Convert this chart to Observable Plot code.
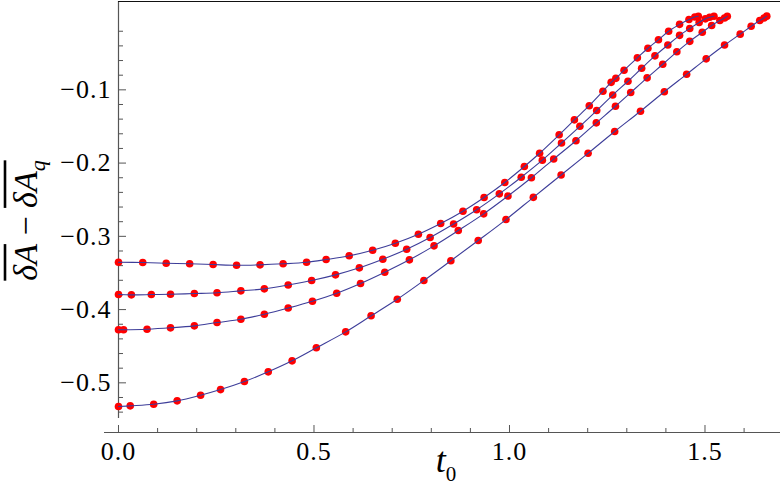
<!DOCTYPE html>
<html><head><meta charset="utf-8">
<script src="https://cdn.jsdelivr.net/npm/d3@7"></script>
<script src="https://cdn.jsdelivr.net/npm/@observablehq/plot@0.6"></script>
<style>html,body{margin:0;padding:0;background:#fff;} #chart{position:relative;width:780px;height:501px;}</style>
</head><body><div id="chart"></div>
<script>
// Series 1 (top curve)
const t1 = [0, 0.062, 0.122, 0.182, 0.242, 0.302, 0.362, 0.421, 0.481, 0.531, 0.590, 0.650, 0.708, 0.767, 0.824, 0.881, 0.935, 0.988, 1.038, 1.077, 1.127, 1.166, 1.204, 1.239, 1.260, 1.272, 1.293, 1.327, 1.354, 1.381, 1.407, 1.435, 1.459, 1.474, 1.483];
const v1 = [-0.3354, -0.3358, -0.3367, -0.3375, -0.3385, -0.3395, -0.3389, -0.3375, -0.3354, -0.3317, -0.3266, -0.3190, -0.3094, -0.2971, -0.2825, -0.2657, -0.2470, -0.2265, -0.2047, -0.1866, -0.1614, -0.1410, -0.1217, -0.1020, -0.0898, -0.0843, -0.0732, -0.0563, -0.0432, -0.0317, -0.0200, -0.0106, -0.0040, -0.0006, 0.0004];
// Series 2
const t2 = [0, 0.033, 0.084, 0.133, 0.194, 0.252, 0.313, 0.373, 0.434, 0.494, 0.555, 0.616, 0.676, 0.737, 0.797, 0.857, 0.916, 0.974, 1.030, 1.084, 1.133, 1.180, 1.223, 1.264, 1.303, 1.338, 1.372, 1.405, 1.435, 1.461, 1.485, 1.501, 1.512, 1.523];
const v2 = [-0.3795, -0.3799, -0.3795, -0.3790, -0.3781, -0.3771, -0.3744, -0.3717, -0.3665, -0.3603, -0.3526, -0.3430, -0.3313, -0.3176, -0.3016, -0.2832, -0.2637, -0.2420, -0.2193, -0.1960, -0.1726, -0.1498, -0.1283, -0.1071, -0.0883, -0.0705, -0.0536, -0.0388, -0.0256, -0.0163, -0.0081, -0.0031, -0.0010, 0.0004];
// Series 3
const t3 = [0, 0.013, 0.073, 0.133, 0.194, 0.252, 0.313, 0.373, 0.434, 0.496, 0.558, 0.619, 0.681, 0.744, 0.807, 0.869, 0.934, 0.996, 1.056, 1.113, 1.170, 1.222, 1.271, 1.310, 1.352, 1.392, 1.428, 1.461, 1.493, 1.517, 1.538, 1.550, 1.557];
const v3 = [-0.4276, -0.4276, -0.4268, -0.4249, -0.4222, -0.4177, -0.4132, -0.4063, -0.3979, -0.3886, -0.3777, -0.3644, -0.3490, -0.3321, -0.3130, -0.2921, -0.2693, -0.2450, -0.2200, -0.1945, -0.1695, -0.1451, -0.1224, -0.1037, -0.0836, -0.0651, -0.0481, -0.0338, -0.0214, -0.0122, -0.0054, -0.0020, 0.0003];
// Series 4 (bottom curve)
const t4 = [0, 0.030, 0.090, 0.150, 0.210, 0.261, 0.322, 0.383, 0.444, 0.506, 0.581, 0.646, 0.713, 0.781, 0.850, 0.920, 0.991, 1.061, 1.132, 1.201, 1.269, 1.335, 1.396, 1.453, 1.503, 1.550, 1.590, 1.618, 1.640, 1.651, 1.658];
const v4 = [-0.5324, -0.5314, -0.5292, -0.5246, -0.5169, -0.5092, -0.4982, -0.4850, -0.4700, -0.4522, -0.4304, -0.4085, -0.3859, -0.3603, -0.3333, -0.3057, -0.2771, -0.2468, -0.2163, -0.1866, -0.1569, -0.1292, -0.1026, -0.0788, -0.0577, -0.0388, -0.0240, -0.0132, -0.0054, -0.0020, 0.0006];

const xMajor = [0, 0.5, 1.0, 1.5];
const xMinor = [0.1, 0.2, 0.3, 0.4, 0.6, 0.7, 0.8, 0.9, 1.1, 1.2, 1.3, 1.4, 1.6];
const yMajor = [-0.5, -0.4, -0.3, -0.2, -0.1];
const yMinor = [-0.54, -0.52, -0.48, -0.46, -0.44, -0.42, -0.38, -0.36, -0.34, -0.32, -0.28, -0.26, -0.24, -0.22, -0.18, -0.16, -0.14, -0.12, -0.08, -0.06, -0.04, -0.02];

const xDomain = [-0.0358, 1.6931];
const yDomain = [-0.5678, 0.0206];
const yAxisBottom = -0.5487;
const axisColor = "#555";
const tickFont = "'Liberation Serif', serif";
const tickSizePx = 26;

const data = [[t1, v1], [t2, v2], [t3, v3], [t4, v4]]
  .flatMap(([ts, vs], k) => ts.map((t, i) => ({series: k, t, v: vs[i]})));

const fmt = d => (d < 0 ? "\u2212" : "") + Math.abs(d).toFixed(1);
const blank = () => "";

const plot = Plot.plot({
  width: 780, height: 501,
  marginLeft: 104, marginRight: 0, marginTop: 1, marginBottom: 69,
  style: {fontFamily: tickFont, fontSize: tickSizePx + "px", background: "white", color: "#000", overflow: "visible"},
  x: {domain: xDomain, label: null},
  y: {domain: yDomain, label: null},
  marks: [
    Plot.ruleY([yDomain[0]], {stroke: axisColor, strokeWidth: 1.2}),
    Plot.ruleX([0], {y1: yAxisBottom, y2: yDomain[1], stroke: axisColor, strokeWidth: 1.2}),
    Plot.ruleY([yDomain[1]], {x1: 0, x2: xDomain[1], stroke: "#111", strokeWidth: 1.2}),
    Plot.axisX({ticks: xMajor, tickSize: -7, tickFormat: blank, stroke: axisColor, label: null}),
    Plot.axisX({ticks: xMinor, tickSize: -4, tickFormat: blank, stroke: axisColor, label: null}),
    Plot.axisX({ticks: xMajor, tickSize: 0, tickPadding: 9, tickFormat: fmt, fontSize: tickSizePx, label: null}),
    Plot.axisY({ticks: yMajor, tickSize: -8, dx: 14, tickFormat: blank, stroke: axisColor, label: null}),
    Plot.axisY({ticks: yMinor, tickSize: -5, dx: 14, tickFormat: blank, stroke: axisColor, label: null}),
    Plot.axisY({ticks: yMajor, tickSize: 0, tickPadding: 7, dx: 14, tickFormat: fmt, fontSize: tickSizePx, label: null}),
    Plot.dot(data, {x: "t", y: "v", r: 3.8, fill: "#ff0000"}),
    Plot.line(data, {x: "t", y: "v", z: "series", stroke: "#3d3d99", strokeWidth: 1.1, curve: "catmull-rom"})
  ]
});
document.getElementById("chart").appendChild(plot);

const svg = d3.select(plot);
svg.selectAll("text").filter(function() { return this.textContent.trim() !== ""; })
  .style("font-family", tickFont).style("font-size", tickSizePx + "px").style("letter-spacing", "1px");

const xs = plot.scale("x"), ys = plot.scale("y");
const xMid = (xs.range[0] + xs.range[1]) / 2;
const yMid = (ys.range[0] + ys.range[1]) / 2;

// x axis title: t with subscript 0
const xt = svg.append("text")
  .attr("x", xMid + 4).attr("y", ys.range[0] + 40)
  .attr("text-anchor", "middle")
  .style("font-family", tickFont).attr("fill", "#000");
xt.append("tspan").style("font-style", "italic").style("font-size", "36px").text("t");
xt.append("tspan").style("font-size", "21px").attr("dy", 9).text("0");

// y axis title: overline(δA) − overline(δA_q)
const g = svg.append("g").attr("transform", `translate(37,${yMid + 4}) rotate(-90)`);
const yt = g.append("text").attr("text-anchor", "middle")
  .style("font-family", tickFont).style("font-size", "34px").attr("fill", "#000");
yt.append("tspan").style("font-style", "italic").text("\u03b4A");
yt.append("tspan").text(" \u2212 ");
yt.append("tspan").style("font-style", "italic").text("\u03b4A");
yt.append("tspan").style("font-style", "italic").style("font-size", "22px").attr("dy", 8).text("q");
const node = yt.node();
function overline(i0, i1) {
  const a = node.getExtentOfChar(i0), b = node.getExtentOfChar(i1);
  g.append("line")
    .attr("x1", a.x).attr("x2", b.x + b.width)
    .attr("y1", -32).attr("y2", -32)
    .attr("stroke", "#000").attr("stroke-width", 2.6);
}
overline(0, 1);
overline(5, 7);
</script>
</body></html>
